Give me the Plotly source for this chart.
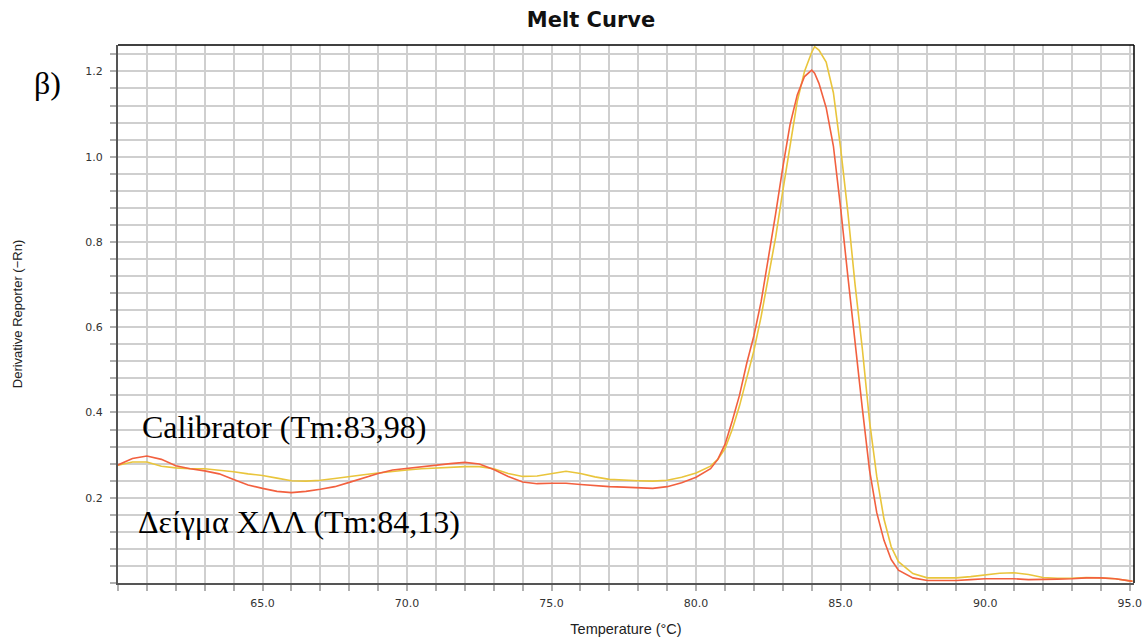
import plotly.graph_objects as go

temps = [60.0, 60.5, 61.0, 61.5, 62.0, 62.5, 63.0, 63.5, 64.0, 64.5, 65.0, 65.5,
         66.0, 66.5, 67.0, 67.5, 68.0, 68.5, 69.0, 69.5, 70.0, 70.5, 71.0, 71.5,
         72.0, 72.5, 73.0, 73.5, 74.0, 74.5, 75.0, 75.5, 76.0, 76.5, 77.0, 77.5,
         78.0, 78.5, 79.0, 79.5, 80.0, 80.5, 80.75, 81.0, 81.25, 81.5, 81.75, 82.0,
         82.25, 82.5, 82.75, 83.0, 83.25, 83.5, 83.75, 84.0, 84.1, 84.25, 84.5, 84.75,
         85.0, 85.25, 85.5, 85.75, 86.0, 86.25, 86.5, 86.75, 87.0, 87.5, 88.0, 88.5,
         89.0, 89.5, 90.0, 90.5, 91.0, 91.5, 92.0, 92.5, 93.0, 93.5, 94.0, 94.5,
         95.0, 95.1]

calibrator = [0.277, 0.292, 0.298, 0.290, 0.275, 0.268, 0.263, 0.256, 0.243, 0.230, 0.222, 0.215,
              0.212, 0.215, 0.220, 0.226, 0.236, 0.247, 0.257, 0.265, 0.269, 0.273, 0.277, 0.280,
              0.283, 0.279, 0.266, 0.250, 0.237, 0.233, 0.234, 0.234, 0.231, 0.228, 0.226, 0.225,
              0.223, 0.222, 0.226, 0.235, 0.248, 0.268, 0.290, 0.325, 0.380, 0.440, 0.515, 0.580,
              0.660, 0.760, 0.865, 0.975, 1.075, 1.145, 1.188, 1.203, 1.196, 1.172, 1.115, 1.025,
              0.880, 0.720, 0.560, 0.410, 0.265, 0.165, 0.100, 0.055, 0.030, 0.012, 0.006, 0.006,
              0.006, 0.008, 0.010, 0.010, 0.010, 0.008, 0.008, 0.009, 0.010, 0.012, 0.012, 0.010,
              0.005, 0.004]

sample = [0.276, 0.284, 0.284, 0.274, 0.270, 0.268, 0.268, 0.265, 0.261, 0.256, 0.252, 0.246,
          0.240, 0.239, 0.241, 0.245, 0.250, 0.254, 0.258, 0.262, 0.265, 0.268, 0.270, 0.272,
          0.273, 0.273, 0.268, 0.257, 0.250, 0.251, 0.257, 0.262, 0.257, 0.249, 0.243, 0.241,
          0.240, 0.239, 0.241, 0.248, 0.258, 0.274, 0.290, 0.315, 0.360, 0.415, 0.480, 0.545,
          0.625, 0.720, 0.810, 0.920, 1.030, 1.130, 1.200, 1.245, 1.258, 1.250, 1.222, 1.150,
          1.020, 0.870, 0.700, 0.550, 0.380, 0.250, 0.150, 0.085, 0.050, 0.022, 0.012, 0.012,
          0.012, 0.015, 0.019, 0.023, 0.024, 0.020, 0.013, 0.011, 0.011, 0.013, 0.012, 0.010,
          0.005, 0.004]

x_tick_vals = [65, 70, 75, 80, 85, 90, 95]
x_tick_text = ["65.0", "70.0", "75.0", "80.0", "85.0", "90.0", "95.0"]
y_tick_vals = [0.2, 0.4, 0.6, 0.8, 1.0, 1.2]
y_tick_text = ["0.2", "0.4", "0.6", "0.8", "1.0", "1.2"]

fig = go.Figure()
fig.add_trace(go.Scatter(x=temps, y=sample, mode="lines", name="Δείγμα ΧΛΛ",
                         line=dict(color="#e9c53c", width=1.6)))
fig.add_trace(go.Scatter(x=temps, y=calibrator, mode="lines", name="Calibrator",
                         line=dict(color="#f2603f", width=1.6)))

grid = "#cfcfcf"
fig.update_layout(
    width=1147, height=640,
    margin=dict(l=118, r=13, t=45, b=57, autoexpand=False),
    paper_bgcolor="white", plot_bgcolor="white",
    showlegend=False,
    title=dict(text="<b>Melt Curve</b>", x=591 / 1147, xref="container", xanchor="center",
               y=1 - 20 / 640, yref="container", yanchor="middle",
               font=dict(family="DejaVu Sans", size=21, color="#111111")),
    xaxis=dict(
        range=[60, 95.15], tickmode="array", tickvals=x_tick_vals, ticktext=x_tick_text,
        automargin=False,
        showgrid=True, gridcolor=grid, gridwidth=1.5,
        ticks="outside", ticklen=6, tickcolor="#b0b0b0", tickwidth=1.5,
        ticklabelstandoff=3,
        minor=dict(dtick=1, tick0=60, showgrid=True, gridcolor=grid, gridwidth=1.5,
                   ticks="outside", ticklen=6, tickcolor="#b0b0b0", tickwidth=1.5),
        showline=True, linecolor="#555555", linewidth=2, zeroline=False,
        tickfont=dict(family="DejaVu Sans", size=11, color="#333333"),
        title=dict(text="Temperature (°C)", standoff=15,
                   font=dict(family="Liberation Sans", size=14.5, color="#222222")),
    ),
    yaxis=dict(
        range=[0, 1.262], tickmode="array", tickvals=y_tick_vals, ticktext=y_tick_text,
        automargin=False,
        showgrid=True, gridcolor=grid, gridwidth=1.5,
        ticks="outside", ticklen=6, tickcolor="#b0b0b0", tickwidth=1.5,
        ticklabelstandoff=5,
        minor=dict(dtick=0.04, tick0=0, showgrid=True, gridcolor=grid, gridwidth=1.5,
                   ticks="outside", ticklen=6, tickcolor="#b0b0b0", tickwidth=1.5),
        showline=True, linecolor="#555555", linewidth=2, zeroline=False,
        tickfont=dict(family="DejaVu Sans", size=11, color="#333333"),
        title=dict(text="Derivative Reporter (\u2212Rn)", standoff=60,
                   font=dict(family="Liberation Sans", size=13, color="#222222")),
    ),
    shapes=[
        dict(type="line", xref="paper", yref="paper", x0=0, x1=1, y0=1, y1=1,
             line=dict(color="black", width=1.5)),
        dict(type="line", xref="paper", yref="paper", x0=1, x1=1, y0=0, y1=1,
             line=dict(color="black", width=1.5)),
    ],
    annotations=[
        dict(text="β)", xref="paper", yref="paper", x=(47 - 118) / 1016, y=(583.5 - 83) / 538,
             xanchor="center", yanchor="middle", showarrow=False,
             font=dict(family="Liberation Serif", size=32, color="black")),
        dict(text="Calibrator (Tm:83,98)", xref="x", yref="y", x=60.76, y=0.366,
             xanchor="left", yanchor="middle", showarrow=False,
             font=dict(family="Liberation Serif", size=32, color="black")),
        dict(text="Δείγμα ΧΛΛ (Tm:84,13)", xref="x", yref="y", x=60.62, y=0.143,
             xanchor="left", yanchor="middle", showarrow=False,
             font=dict(family="Liberation Serif", size=32, color="black")),
    ],
)

fig.write_html("out.html")
